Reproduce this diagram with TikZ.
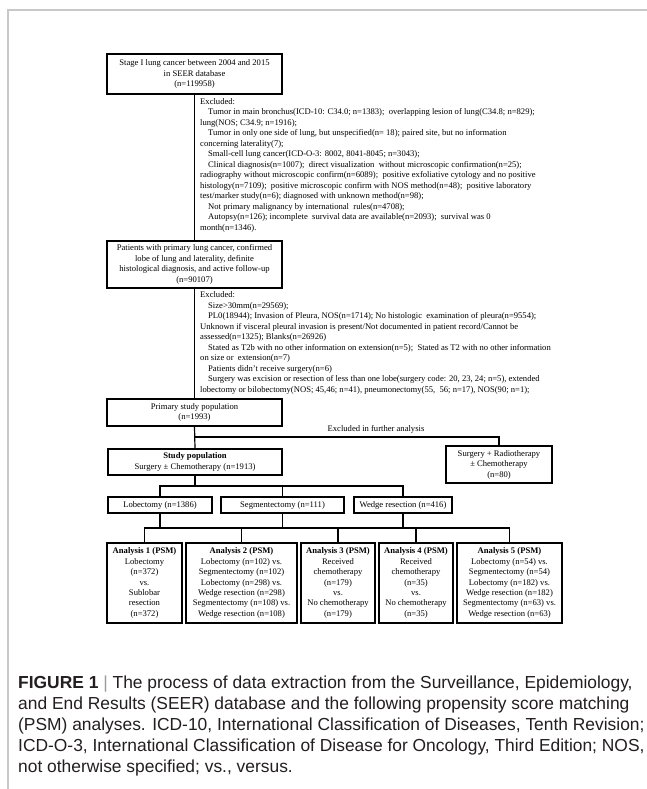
\documentclass[tikz,border=0pt]{standalone}
\usepackage{fontspec}
\setmainfont{Liberation Serif}
\newfontfamily\capfont{Liberation Sans}
\definecolor{framegray}{HTML}{C8C8C8}
\definecolor{capgray}{HTML}{9A9A9A}
\definecolor{captext}{HTML}{231F20}
\tikzset{
 box/.style={draw=black, line width=1.2pt, align=center, inner sep=0pt, font=\fontsize{8.6}{10.5}\selectfont},
 conn/.style={draw=black, line width=1.2pt},
 excl/.style={anchor=north west, align=left, inner sep=0pt, font=\fontsize{8.6}{10.5}\selectfont},
 abox/.style={box, minimum height=80pt, font=\fontsize{8.6}{10.4}\selectfont},
 lbl/.style={inner sep=0pt, font=\fontsize{8.6}{10.5}\selectfont},
 captxt/.style={anchor=base west, inner sep=0pt, font=\capfont\fontsize{17.4}{21}\selectfont, text=captext},
}
\newcommand{\ind}{\hspace*{8pt}}
\begin{document}
\begin{tikzpicture}[x=1pt,y=-1pt]
\useasboundingbox (0,0) rectangle (646,789);
\fill[white] (0,0) rectangle (646,789);
\draw[framegray, line width=2pt] (8,789) -- (8,10) -- (647,10);

% boxes
\node[box, minimum width=175pt, minimum height=40pt] (b1) at (194.5,74)
 {Stage I lung cancer between 2004 and 2015\\ in SEER database\\ (n=119958)};
\node[box, minimum width=175pt, minimum height=47pt] (b2) at (194.5,264.5)
 {Patients with primary lung cancer, confirmed\\ lobe of lung and laterality, definite\\ histological diagnosis, and active follow-up\\ (n=90107)};
\node[box, minimum width=175pt, minimum height=27pt] (b3) at (194.5,412.5)
 {Primary study population\\ (n=1993)};
\node[box, minimum width=174pt, minimum height=26pt] (b4) at (195,462)
 {\textbf{Study population}\\ Surgery ± Chemotherapy (n=1913)};
\node[box, minimum width=106pt, minimum height=37pt] (rb) at (499,464.5)
 {Surgery + Radiotherapy\\ ± Chemotherapy\\ (n=80)};
\node[box, minimum width=104pt, minimum height=16pt] (lob) at (160,505) {Lobectomy (n=1386)};
\node[box, minimum width=123pt, minimum height=16pt] (seg) at (282.5,505) {Segmentectomy (n=111)};
\node[box, minimum width=98pt, minimum height=16pt] (wed) at (403,505) {Wedge resection (n=416)};

\node[abox, minimum width=75pt] (a1) at (144.5,583)
 {\textbf{Analysis 1 (PSM)}\\ Lobectomy\\ (n=372)\\ vs.\\ Sublobar\\ resection\\ (n=372)};
\node[abox, minimum width=111pt] (a2) at (241.5,583)
 {\textbf{Analysis 2 (PSM)}\\ Lobectomy (n=102) vs.\\ Segmentectomy (n=102)\\ Lobectomy (n=298) vs.\\ Wedge resection (n=298)\\ Segmentectomy (n=108) vs.\\ Wedge resection (n=108)};
\node[abox, minimum width=74pt] (a3) at (338,583)
 {\textbf{Analysis 3 (PSM)}\\ Received\\ chemotherapy\\ (n=179)\\ vs.\\ No chemotherapy\\ (n=179)};
\node[abox, minimum width=74pt] (a4) at (416,583)
 {\textbf{Analysis 4 (PSM)}\\ Received\\ chemotherapy\\ (n=35)\\ vs.\\ No chemotherapy\\ (n=35)};
\node[abox, minimum width=105pt] (a5) at (509.5,583)
 {\textbf{Analysis 5 (PSM)}\\ Lobectomy (n=54) vs.\\ Segmentectomy (n=54)\\ Lobectomy (n=182) vs.\\ Wedge resection (n=182)\\ Segmentectomy (n=63) vs.\\ Wedge resection (n=63)};

% exclusion texts
\node[excl] (ex1) at (200,98.2) {Excluded:\\
\ind Tumor in main bronchus(ICD-10: C34.0; n=1383);\ \ overlapping lesion of lung(C34.8; n=829);\\
lung(NOS; C34.9; n=1916);\\
\ind Tumor in only one side of lung, but unspecified(n= 18); paired site, but no information\\
concerning laterality(7);\\
\ind Small-cell lung cancer(ICD-O-3: 8002, 8041-8045; n=3043);\\
\ind Clinical diagnosis(n=1007);\ \ direct visualization\ \ without microscopic confirmation(n=25);\\
radiography without microscopic confirm(n=6089);\ \ positive exfoliative cytology and no positive\\
histology(n=7109);\ \ positive microscopic confirm with NOS method(n=48);\ \ positive laboratory\\
test/marker study(n=6); diagnosed with unknown method(n=98);\\
\ind Not primary malignancy by international\ \ rules(n=4708);\\
\ind Autopsy(n=126); incomplete\ \ survival data are available(n=2093);\ \ survival was 0\\
month(n=1346).};
\node[excl] (ex2) at (200,291.5) {Excluded:\\
\ind Size>30mm(n=29569);\\
\ind PL0(18944); Invasion of Pleura, NOS(n=1714); No histologic\ \ examination of pleura(n=9554);\\
Unknown if visceral pleural invasion is present/Not documented in patient record/Cannot be\\
assessed(n=1325); Blanks(n=26926)\\
\ind Stated as T2b with no other information on extension(n=5);\ \ Stated as T2 with no other information\\
on size or\ \ extension(n=7)\\
\ind Patients didn't receive surgery(n=6)\\
\ind Surgery was excision or resection of less than one lobe(surgery code: 20, 23, 24; n=5), extended\\
lobectomy or bilobectomy(NOS; 45,46; n=41), pneumonectomy(55,\ \ 56; n=17), NOS(90; n=1);};

\node[lbl] (exl) at (376,429) {Excluded in further analysis};

% connectors
\coordinate (h1) at (0,437);
\coordinate (h2) at (0,486);
\coordinate (h3) at (0,528);
\draw[conn] (b1.south) -- (b2.north);
\draw[conn] (b2.south) -- (b3.north);
\draw[conn] (b3.south) -- (b4.north);
\draw[conn] (b3.south |- h1) -| (rb.north);
\draw[conn] (b4.south) -- (b4.south |- h2);
\draw[conn] (lob.north) |- (wed.north |- h2) -- (wed.north);
\draw[conn] (seg.north) -- (seg.north |- h2);
\draw[conn] (lob.south) -- (lob.south |- h3);
\draw[conn] (seg.south) -- (seg.south |- h3);
\draw[conn] (wed.south) -- (wed.south |- h3);
\draw[conn] (a1.north) |- (a5.north |- h3) -- (a5.north);
\draw[conn] (a2.north) -- (a2.north |- h3);
\draw[conn] (a3.north) -- (a3.north |- h3);
\draw[conn] (a4.north) -- (a4.north |- h3);

% caption
\node[captxt] (c1) at (18,688) {\textbf{FIGURE 1} \textcolor{capgray}{|} The process of data extraction from the Surveillance, Epidemiology,};
\node[captxt] (c2) at (18,709) {and End Results (SEER) database and the following propensity score matching};
\node[captxt] (c3) at (18,730) {(PSM) analyses. ICD-10, International Classification of Diseases, Tenth Revision;};
\node[captxt] (c4) at (18,751) {ICD-O-3, International Classification of Disease for Oncology, Third Edition; NOS,};
\node[captxt] (c5) at (18,772) {not otherwise specified; vs., versus.};
\end{tikzpicture}
\end{document}
